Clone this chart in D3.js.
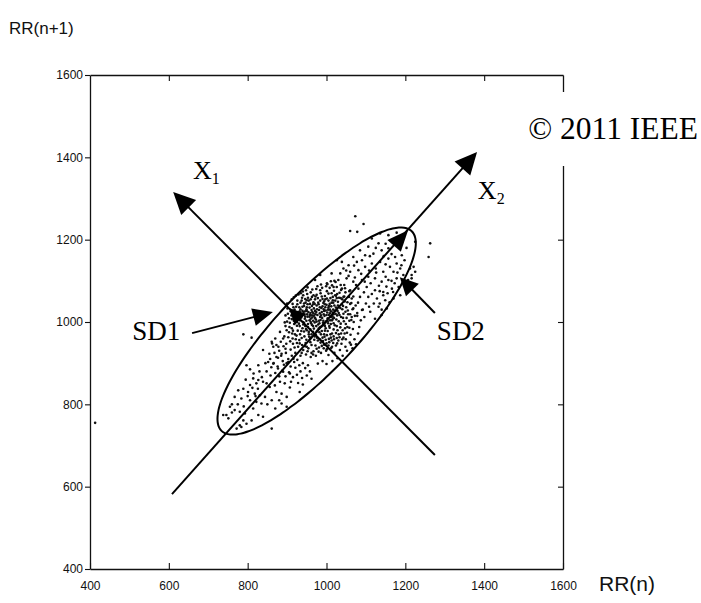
<!DOCTYPE html>
<html>
<head>
<meta charset="utf-8">
<script src="https://cdn.jsdelivr.net/npm/d3@7"></script>
<style>
  body { margin: 0; background: #fff; }
  svg { display: block; }
</style>
</head>
<body>
<svg id="chart" width="701" height="603"></svg>
<script>
// Poincaré plot of successive RR intervals (ms)
const xTicks = [400, 600, 800, 1000, 1200, 1400, 1600];
const yTicks = [400, 600, 800, 1000, 1200, 1400, 1600];

// [RR(n), RR(n+1)] pairs
const tailPairs = [
  [789,970],[810,962],[861,952],[865,940],[839,932],[855,923],[873,915],[886,923],[852,903],[865,899],
  [827,895],[797,895],[903,903],[916,911],[877,887],[890,879],[907,875],[814,863],[827,859],[839,855],
  [822,851],[806,847],[848,851],[856,842],[869,846],[882,855],[894,851],[907,841],[789,838],[776,834],
  [801,830],[818,826],[831,822],[844,818],[873,830],[886,826],[899,818],[932,830],[767,818],[784,814],
  [806,810],[822,806],[835,802],[861,810],[886,802],[899,794],[755,794],[746,774],[767,786],[780,782],
  [793,778],[814,790],[827,774],[839,770],[789,761],[780,749],[797,753],[772,741],[784,745],[810,761],
  [861,741],[751,766],[738,774],[413,755],
  [760,780],[775,800],[790,795],[800,820],[812,840],[826,838],[836,866],[848,880],[858,870],[870,876],
  [880,868],[892,896],[860,890],[845,900],[830,880],[815,875],[820,820],[850,800],[870,790],[880,810],
  [760,800],[795,860],[806,885],[878,940],[896,935]
];
const midPairs = [
  [880,930],[891,941],[885,918],[897,925],[903,910],[912,918],[918,903],[926,908],[931,895],[940,900],
  [946,888],[953,895],[958,880],[934,880],[921,889],[909,892],[899,900],[889,905],[877,913],[868,925],
  [873,944],[884,952],[893,965],[882,976],[870,960],[862,948],[905,878],[915,866],[925,872],[938,864],
  [950,870],[962,862],[940,848],[928,852],[910,855],[896,868],[888,882],[876,892],[866,900],[857,910]
];
const corePairs = [
  [940,1000],[952,1013],[961,997],[973,1006],[984,1012],[991,998],[1003,1009],[968,984],[955,976],[946,990],
  [933,1004],[927,1019],[939,1027],[950,1036],[962,1029],[976,1031],[988,1024],[997,1036],[1009,1030],[1018,1019],
  [1014,1004],[1025,1006],[1021,992],[1008,986],[996,979],[982,975],[970,965],[958,958],[944,965],[936,978],
  [925,991],[917,1003],[920,970],[931,956],[947,949],[962,944],[978,955],[990,962],[1001,968],[1014,972],
  [1028,980],[1036,996],[1042,1010],[1031,1022],[1040,1031],[1029,1040],[1017,1047],[1005,1052],[992,1046],[980,1043],
  [967,1048],[955,1052],[943,1045],[931,1036],[919,1030],[911,1016],[907,998],[912,985],[903,963],[915,947],
  [928,940],[941,932],[954,936],[967,929],[981,938],[994,945],[1007,951],[1019,958],[1033,963],[1046,972],
  [1053,988],[1058,1003],[1055,1019],[1050,1036],[1046,1050],[1036,1058],[1024,1064],[1013,1070],[1001,1075],[988,1062],
  [975,1066],[963,1061],[951,1068],[938,1059],[926,1052],[914,1044],[901,1033],[896,1016],[894,999],[899,980],
  [890,960],[898,947],[909,933],[921,925],[934,918],[948,921],[960,915],[973,918],[986,925],[999,930],
  [1012,937],[1024,943],[1038,947],[1049,958],[1061,969],[1067,983],[1069,1000],[1072,1015],[1066,1031],[1063,1046],
  [1057,1061],[1048,1072],[1037,1078],[1026,1085],[1014,1089],[1002,1092],[989,1083],[977,1087],[964,1079],[952,1084],
  [940,1074],[929,1067],[917,1060],
  [957,1004],[964,1011],[970,999],[977,1017],[985,1005],[993,1019],[999,1001],[1006,1017],[1011,995],[966,990],
  [959,982],[949,1003],[944,1018],[954,1024],[967,1021],[979,994],[987,989],[996,990],[1004,997],[1013,1013],
  [1022,1028],[1012,1038],[1000,1042],[987,1034],[975,1040],[963,1039],[950,1027],[936,1011],[930,996],[939,985],
  [950,980],[962,970],[975,977],[986,970],[998,985],[1009,1021],[1016,1008],[1027,1016],[1035,1034],[1022,1052],
  [1010,1058],[997,1055],[984,1052],[971,1055],[958,1044],[946,1056],[934,1047],[923,1037],[913,1025],[905,1009],
  [921,1011],[932,1026],[943,1039],[958,1017],[971,1027],[983,1021],[994,1027],[1005,1035],[1017,1030],[1029,1049],
  [1039,1043],[1048,1025],[1044,1002],[1035,987],[1024,973],[1011,962],[998,957],[985,950],[972,943],[959,951],
  [946,941],[932,948],[922,958],[913,972],[908,953],[919,938],[937,925],[952,929],[966,921],[980,928],
  [993,936],[1005,943],[1017,949],[1030,955],[1043,962],
  [1005,920],[1020,925],[1034,932],[1048,940],[1059,950],[1071,958],[1080,972],[1062,945],[1041,918],[1028,912],
  [1015,905],[1000,898],[1052,930],[1066,936],[1075,946],[990,905],[978,899],[1083,988],[1087,1004],[1078,1022],
  [1064,1012],[1092,1030],
  [945,1008],[953,995],[960,1008],[968,1015],[974,990],[981,1003],[989,1010],[995,1015],[1002,1023],[1010,1012],
  [1016,1023],[1020,1040],[1013,1047],[1004,1030],[996,1043],[990,1038],[981,1029],[972,1019],[964,1024],[957,1035],
  [949,1031],[942,1024],[935,1017],[929,1009],[925,1000],[932,990],[941,994],[948,983],[955,970],[966,976],
  [973,969],[980,984],[988,978],[994,970],[1003,978],[1010,970],[1018,982],[1026,990],[1031,1002],[1037,1012],
  [1043,1020],[1040,1055],[1033,1071],[1019,1076],[1008,1083],[996,1063],[985,1070],[972,1062],[960,1055],[947,1047],
  [937,1052],[926,1043],[916,1036],[909,1026],[902,1020],[900,1001],[906,988],[915,979],[924,967],[937,961],
  [949,957],[961,962],[983,958],[995,964],[1006,959],[1018,965],[1031,970],[1041,980],[1049,995],[1051,1010],
  [1060,1019],[1053,1048],[1045,1062],[1032,1059],[1027,1068],[1016,1061],[1001,1057],[990,1056],[978,1058],[966,1043],
  [953,1059],[941,1065],[934,1031],[928,1024],[919,1019],[912,1007],[918,995],[927,979],[933,970],[943,977],
  [956,964],[969,957],[976,962],[991,954],[1000,948],[1013,955],[1026,961],[1037,972],[1047,985],[1033,1017],
  [1024,1035],[1008,1044],[994,1050],[979,1047],[968,1033],[952,1043],[939,1037],[946,1013],[960,1000],[971,1010],
  [982,997],[992,1003],[1000,1017],[1009,1004],[1018,997],[1028,1027],[1019,1010],[1007,990],[995,996],[983,987],
  [975,1001],[963,993],[953,988],[943,998],[934,1011],[951,1019],[963,1016],[974,1024],[986,1016],[998,1028],
  [1011,1026],[1023,1020],[1015,1014],[1003,1002],[991,992],[977,979],[966,1003],[957,1013],[946,1026],[959,1022],
  [970,1044],[983,1036],[993,1031],[1006,1039],[1016,1053],[1026,1058],[1042,1039],[1054,1028],[1063,1005],[1058,986],
  [1052,974],[1040,958],[1027,948],[1014,940],[1001,934],[988,942],[975,935],[962,925],[950,940],[938,944],
  [925,949],[914,960],[905,975],[896,990],[900,1045],[912,1055],[922,1064],[935,1070],[948,1077],[960,1072],
  [974,1080],[986,1091],[999,1087],[1011,1099],[1023,1097],[1036,1090],[1047,1082],[1058,1075],[1068,1062],[1074,1040]
];
const upperPairs = [
  [1136,1215],[1157,1211],[1178,1217],[1191,1209],[1115,1203],[1132,1191],[1106,1183],[1140,1174],[1157,1179],[1085,1174],
  [1098,1162],[1119,1166],[1068,1158],[1077,1146],[1056,1138],[1039,1146],[1026,1150],[1043,1130],[1060,1122],[1081,1126],
  [1098,1134],[1115,1142],[1136,1146],[1157,1154],[1174,1158],[1191,1162],[1178,1142],[1161,1134],[1144,1122],[1170,1122],
  [1187,1130],[1195,1114],[1178,1106],[1157,1102],[1140,1098],[1123,1106],[1106,1110],[1090,1102],[1068,1098],[1051,1106],
  [1030,1102],[1013,1118],[1001,1094],[1018,1085],[1039,1081],[1060,1077],[1081,1081],[1102,1085],[1123,1077],[1144,1073],
  [1166,1081],[1183,1085],[1187,1065],[1170,1057],[1149,1053],[1128,1057],[1106,1061],[1085,1061],[1064,1057],[1043,1061],
  [1022,1065],[1005,1069],[984,1077],[967,1065],[950,1053],[971,1102],[984,1114],[1132,1037],[1153,1033],[1160,1048],
  [1111,1025],[1090,1029],[1068,1033],[1140,1030],[1140,1017],[1123,1008],
  [1212,1130],[1216,1114],[1207,1102],[1173,1094],[1152,1086],[1144,1065],[1135,1045],[1169,1073],[1190,1138],
  [1045,1090],[1056,1112],[1072,1108],[1088,1117],[1097,1098],[1112,1094],[1126,1120],[1133,1088],[1150,1110],[1165,1100],
  [1180,1120],[1198,1150],[1203,1180],[1185,1190],[1170,1200],[1150,1190],[1125,1180],[1110,1160],[1090,1150],[1070,1137],
  [1050,1125],[1035,1118],[1020,1100],[1075,1090],[1095,1072],[1115,1068],[1135,1075],[1155,1070],[1120,1045],[1100,1045],
  [1080,1047],[1060,1044],[1078,1015],[1096,1012],[1108,1037],[1150,1140],[1165,1165],[1145,1160],[1125,1130],[1108,1125]
];
const outlierPairs = [
  [1073,1257],[1094,1238],[1060,1221],[1078,1219],[1263,1191],[1259,1158],[1225,1195],[1221,1134],[1225,1122],[1216,1106],
  [1212,1084]
];

// confidence ellipse fitted on the cloud (centre, semi-axes in ms, orientation in degrees)
const ellipseCenter = [975, 978];
const ellipseAxes = [342, 98];
const ellipseAngle = 45;

// principal axes (ms coordinates, tail -> head)
const axisX1 = [[1275, 677], [611, 1316]];
const axisX2 = [[608, 582], [1382, 1413]];
// SD markers on the principal axes
const sd1Tip = [905, 1034];
const sd2Tip = [1207, 1223];
// label pointers (tail -> head)
const sd1Pointer = [[659, 973], [864, 1024]];
const sd2Pointer = [[1275, 1022], [1186, 1109]];
// annotation text anchors (ms)
const textLabels = [
  { text: "SD1", at: [507, 956] },
  { text: "SD2", at: [1280, 956] }
];
const axisLabels = [
  { main: "X", sub: "1", at: [661, 1347] },
  { main: "X", sub: "2", at: [1384, 1299] }
];

const svg = d3.select("#chart");
const margin = { left: 90, right: 138, top: 75, bottom: 34 };
const W = 701, H = 603;

const x = d3.scaleLinear().domain([400, 1600]).range([margin.left, W - margin.right]);
const y = d3.scaleLinear().domain([400, 1600]).range([H - margin.bottom, margin.top]);

const ink = "#111";
const tickFont = "'Liberation Sans', Arial, sans-serif";
const serif = "'Liberation Serif', 'Times New Roman', serif";
const fmt = d3.format("d");

// frame and ticks
const gB = svg.append("g").attr("transform", `translate(0,${y(400)})`)
  .call(d3.axisBottom(x).tickValues(xTicks).tickFormat(fmt).tickSizeInner(-6).tickSizeOuter(0).tickPadding(12));
const gL = svg.append("g").attr("transform", `translate(${x(400)},0)`)
  .call(d3.axisLeft(y).tickValues(yTicks).tickFormat(fmt).tickSizeInner(5).tickSizeOuter(0).tickPadding(2));
const gT = svg.append("g").attr("transform", `translate(0,${y(1600)})`)
  .call(d3.axisTop(x).tickValues(xTicks.slice(1, -1)).tickSizeInner(-6).tickSizeOuter(0).tickFormat(""));
const gR = svg.append("g").attr("transform", `translate(${x(1600)},0)`)
  .call(d3.axisRight(y).tickValues(yTicks.slice(1, -1)).tickSizeInner(-5).tickSizeOuter(0).tickFormat(""));
[gB, gL, gT, gR].forEach(g => {
  g.select(".domain").attr("stroke", ink).attr("stroke-width", 1.3);
  g.selectAll(".tick line").attr("stroke", ink).attr("stroke-width", 1.1);
  g.selectAll(".tick text").attr("fill", ink).attr("font-family", tickFont).attr("font-size", 12);
});

// scatter
const allPairs = [...tailPairs, ...midPairs, ...corePairs, ...upperPairs, ...outlierPairs];
svg.append("g").selectAll("circle").data(allPairs).join("circle")
  .attr("cx", d => x(d[0])).attr("cy", d => y(d[1]))
  .attr("r", 1.3).attr("fill", ink);

// ellipse traced in ms space
const th = ellipseAngle * Math.PI / 180;
const ellPts = d3.range(0, 360, 3).map(deg => {
  const t = deg * Math.PI / 180;
  const u = ellipseAxes[0] * Math.cos(t), v = ellipseAxes[1] * Math.sin(t);
  return [ellipseCenter[0] + u * Math.cos(th) - v * Math.sin(th),
          ellipseCenter[1] + u * Math.sin(th) + v * Math.cos(th)];
});
svg.append("path")
  .attr("d", d3.line().x(d => x(d[0])).y(d => y(d[1])).curve(d3.curveCardinalClosed)(ellPts))
  .attr("fill", "none").attr("stroke", "#000").attr("stroke-width", 2);

// arrows
const px = p => [x(p[0]), y(p[1])];
function head(tip, dir, L, hw) {
  const n = Math.hypot(dir[0], dir[1]);
  const ux = dir[0] / n, uy = dir[1] / n;
  const bx = tip[0] - ux * L, by = tip[1] - uy * L;
  return `M${tip[0]},${tip[1]}L${bx - uy * hw},${by + ux * hw}L${bx + uy * hw},${by - ux * hw}Z`;
}
const ga = svg.append("g");
function arrow(seg, L, hw) {
  const a = px(seg[0]), b = px(seg[1]);
  const dir = [b[0] - a[0], b[1] - a[1]];
  const n = Math.hypot(dir[0], dir[1]);
  ga.append("line")
    .attr("x1", a[0]).attr("y1", a[1])
    .attr("x2", b[0] - dir[0] / n * (L - 2)).attr("y2", b[1] - dir[1] / n * (L - 2))
    .attr("stroke", "#000").attr("stroke-width", 2);
  ga.append("path").attr("d", head(b, dir, L, hw)).attr("fill", "#000");
}
arrow(axisX1, 22, 10.5);
arrow(axisX2, 22, 10.5);
arrow(sd1Pointer, 20, 9);
arrow(sd2Pointer, 18, 9);
// SD heads sit on the principal axes
function axisDir(seg) { const a = px(seg[0]), b = px(seg[1]); return [b[0] - a[0], b[1] - a[1]]; }
ga.append("path").attr("d", head(px(sd1Tip), axisDir(axisX1), 16, 8)).attr("fill", "#000");
ga.append("path").attr("d", head(px(sd2Tip), axisDir(axisX2), 21, 9)).attr("fill", "#000");

// annotation labels
svg.append("g").selectAll("text").data(textLabels).join("text")
  .attr("x", d => x(d.at[0])).attr("y", d => y(d.at[1]))
  .attr("font-family", serif).attr("font-size", 27).attr("fill", "#000")
  .text(d => d.text);
const al = svg.append("g").selectAll("text").data(axisLabels).join("text")
  .attr("x", d => x(d.at[0])).attr("y", d => y(d.at[1]))
  .attr("font-family", serif).attr("font-size", 26).attr("fill", "#000");
al.append("tspan").text(d => d.main);
al.append("tspan").attr("font-size", 16).attr("dy", 5).text(d => d.sub);

// axis titles
svg.append("text").attr("x", 9).attr("y", 34)
  .attr("font-family", tickFont).attr("font-size", 17).attr("fill", ink).text("RR(n+1)");
svg.append("text").attr("x", 599).attr("y", 591)
  .attr("font-family", tickFont).attr("font-size", 21).attr("fill", ink).text("RR(n)");

// copyright notice over the frame
svg.append("rect").attr("x", 520).attr("y", 92).attr("width", 181).attr("height", 74).attr("fill", "#fff");
svg.append("text").attr("x", 698).attr("y", 139).attr("text-anchor", "end")
  .attr("font-family", serif).attr("font-size", 31.5).attr("fill", "#000").text("© 2011 IEEE");
</script>
</body>
</html>
